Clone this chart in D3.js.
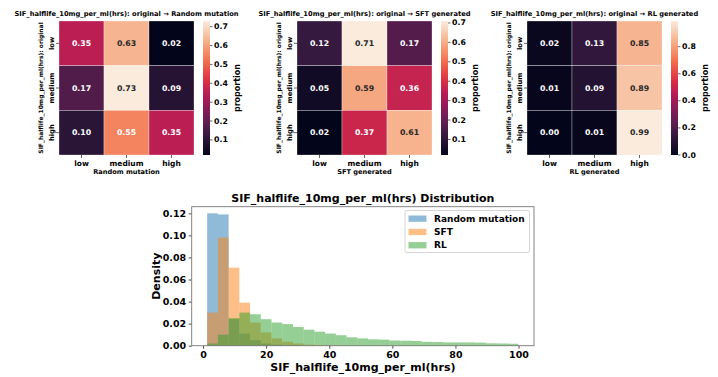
<!DOCTYPE html>
<html>
<head>
<meta charset="utf-8">
<script src="https://cdn.jsdelivr.net/npm/d3@7"></script>
<style>
  body { margin: 0; background: #fff; }
  text { font-family: "DejaVu Sans", sans-serif; font-weight: bold; fill: #000; }
</style>
</head>
<body>
<svg id="chart" width="718" height="377"></svg>
<script>
"use strict"

// Data
const levels = ['low', 'medium', 'high']
const panelNames = ['Random mutation', 'SFT generated', 'RL generated']
const randomMatrix = [[0.35, 0.63, 0.02], [0.17, 0.73, 0.09], [0.10, 0.55, 0.35]]
const sftMatrix = [[0.12, 0.71, 0.17], [0.05, 0.59, 0.36], [0.02, 0.37, 0.61]]
const rlMatrix = [[0.02, 0.13, 0.85], [0.01, 0.09, 0.89], [0.00, 0.01, 0.99]]
const cbarTicks = [
  [0.1, 0.2, 0.3, 0.4, 0.5, 0.6, 0.7],
  [0.1, 0.2, 0.3, 0.4, 0.5, 0.6, 0.7],
  [0.0, 0.2, 0.4, 0.6, 0.8]
]

const binEdges = [1.3, 4.7, 8.1, 11.5, 14.9, 18.3, 21.7, 25.1, 28.5, 31.9, 35.3, 38.7, 42.1, 45.5, 48.9,
  52.3, 55.7, 59.1, 62.5, 65.9, 69.3, 72.7, 76.1, 79.5, 82.9, 86.3, 89.7, 93.1, 96.5, 100]
const seriesNames = ['Random mutation', 'SFT', 'RL']
const randomDensity = [0.120, 0.119, 0.024, 0.011, 0.005, 0.002, 0.001, 0.0005, 0.0003]
const sftDensity = [0.030, 0.098, 0.0707, 0.039, 0.021, 0.012, 0.0066, 0.0036, 0.002, 0.001, 0.0006, 0.0003]
const rlDensity = [0.002, 0.010, 0.025, 0.030, 0.0285, 0.024, 0.021, 0.0196, 0.017, 0.0145, 0.0127, 0.011,
  0.0095, 0.0076, 0.0066, 0.0058, 0.0055, 0.0047, 0.0045, 0.0043, 0.0035, 0.0033, 0.0030, 0.0030,
  0.0030, 0.0028, 0.0022, 0.0020, 0.0018]
const xTicks = [0, 20, 40, 60, 80, 100]
const yTicks = [0, 0.02, 0.04, 0.06, 0.08, 0.10, 0.12]

// Colours
const rocketStops = ['#03051a', '#35193e', '#701f57', '#ad1759', '#e13342', '#f37651', '#f6b48f', '#faebdd']
const rocket = d3.scaleLinear()
  .domain(rocketStops.map((c, i) => i / (rocketStops.length - 1)))
  .range(rocketStops)
  .interpolate(d3.interpolateRgb)
const seriesColors = ['#1f77b4', '#ff7f0e', '#2ca02c']

const svg = d3.select('#chart')

function luminance(color) {
  const c = d3.rgb(color)
  const lin = v => { v /= 255; return v <= 0.03928 ? v / 12.92 : Math.pow((v + 0.055) / 1.055, 2.4) }
  return 0.2126 * lin(c.r) + 0.7152 * lin(c.g) + 0.0722 * lin(c.b)
}

/****** HEATMAPS ******/
const matrices = [randomMatrix, sftMatrix, rlMatrix]
const panelLefts = [59, 297, 527]
const hmTop = 21, hmSize = 134, hmWidth = 135

matrices.forEach((matrix, p) => {
  const x0 = panelLefts[p]
  const flat = matrix.flat()
  const vmin = d3.min(flat), vmax = d3.max(flat)
  const norm = d3.scaleLinear().domain([vmin, vmax]).range([0, 1]).clamp(true)
  const color = v => rocket(norm(v))

  const xs = d3.scaleBand().domain(levels).range([x0, x0 + hmWidth])
  const ys = d3.scaleBand().domain(levels).range([hmTop, hmTop + hmSize])
  const g = svg.append('g')

  const cells = matrix.flatMap((row, i) => row.map((v, j) => ({ row: levels[i], col: levels[j], v })))
  g.selectAll('rect.cell').data(cells).enter().append('rect')
    .attr('class', 'cell')
    .attr('x', d => xs(d.col)).attr('y', d => ys(d.row))
    .attr('width', xs.bandwidth()).attr('height', ys.bandwidth())
    .attr('fill', d => color(d.v))
    .attr('stroke', '#fff').attr('stroke-width', 0.3)
  g.selectAll('text.annot').data(cells).enter().append('text')
    .attr('class', 'annot')
    .attr('x', d => xs(d.col) + xs.bandwidth() / 2)
    .attr('y', d => ys(d.row) + ys.bandwidth() / 2)
    .attr('text-anchor', 'middle').attr('dominant-baseline', 'central')
    .style('font-size', '7.8px')
    .style('fill', d => luminance(color(d.v)) > 0.408 ? '#262626' : '#fff')
    .text(d => d.v.toFixed(2))

  // x axis
  levels.forEach(l => {
    const cx = xs(l) + xs.bandwidth() / 2
    g.append('line').attr('x1', cx).attr('x2', cx).attr('y1', hmTop + hmSize).attr('y2', hmTop + hmSize + 3)
      .attr('stroke', '#000').attr('stroke-width', 0.6)
    g.append('text').attr('x', cx).attr('y', hmTop + hmSize + 10.5)
      .attr('text-anchor', 'middle').style('font-size', '7.5px').text(l)
  })
  g.append('text').attr('x', x0 + hmWidth / 2).attr('y', hmTop + hmSize + 18.5)
    .attr('text-anchor', 'middle').style('font-size', '6.6px').text(panelNames[p])

  // y axis
  levels.forEach(l => {
    const cy = ys(l) + ys.bandwidth() / 2
    g.append('line').attr('x1', x0 - 3).attr('x2', x0).attr('y1', cy).attr('y2', cy)
      .attr('stroke', '#000').attr('stroke-width', 0.6)
    g.append('text').attr('transform', `translate(${x0 - 5},${cy}) rotate(-90)`)
      .attr('text-anchor', 'middle').style('font-size', '6.8px').text(l)
  })
  g.append('text').attr('transform', `translate(${x0 - 16.5},${hmTop + hmSize / 2}) rotate(-90)`)
    .attr('text-anchor', 'middle').style('font-size', '6px')
    .text('SIF_halflife_10mg_per_ml(hrs): original')

  // title
  g.append('text').attr('x', x0 + hmWidth / 2).attr('y', 16)
    .attr('text-anchor', 'middle').style('font-size', '6.7px')
    .text('SIF_halflife_10mg_per_ml(hrs): original \u2192 ' + panelNames[p])

  // colorbar
  const cbX = x0 + hmWidth + 9, cbW = 7
  const gradId = 'cbar' + p
  const grad = svg.append('defs').append('linearGradient').attr('id', gradId)
    .attr('x1', 0).attr('x2', 0).attr('y1', 1).attr('y2', 0)
  d3.range(0, 1.0001, 0.05).forEach(t => {
    grad.append('stop').attr('offset', t).attr('stop-color', rocket(t))
  })
  g.append('rect').attr('x', cbX).attr('y', hmTop).attr('width', cbW).attr('height', hmSize)
    .attr('fill', `url(#${gradId})`)
  const cbScale = d3.scaleLinear().domain([vmin, vmax]).range([hmTop + hmSize, hmTop])
  cbarTicks[p].forEach(t => {
    const y = cbScale(t)
    g.append('line').attr('x1', cbX + cbW).attr('x2', cbX + cbW + 2.5).attr('y1', y).attr('y2', y)
      .attr('stroke', '#000').attr('stroke-width', 0.6)
    g.append('text').attr('x', cbX + cbW + 4).attr('y', y).attr('dominant-baseline', 'central')
      .style('font-size', '7.8px').text(t.toFixed(1))
  })
  g.append('text').attr('transform', `translate(${cbX + 37},${hmTop + hmSize / 2}) rotate(-90)`)
    .attr('text-anchor', 'middle').style('font-size', '8px').text('proportion')
})

/****** HISTOGRAM ******/
const plot = { left: 191.7, right: 534, top: 206.7, bottom: 345.7 }
const x = d3.scaleLinear().domain([-3.6, 104.9]).range([plot.left, plot.right])
const y = d3.scaleLinear().domain([0, 0.126]).range([plot.bottom, plot.top])
const hist = svg.append('g')

const allDensities = [randomDensity, sftDensity, rlDensity]
allDensities.forEach((dens, s) => {
  hist.append('g').selectAll('rect').data(dens).enter().append('rect')
    .attr('x', (d, i) => x(binEdges[i]))
    .attr('width', (d, i) => x(binEdges[i + 1]) - x(binEdges[i]))
    .attr('y', d => y(d))
    .attr('height', d => y(0) - y(d))
    .attr('fill', seriesColors[s]).attr('fill-opacity', 0.5)
})

// axes
const xAxis = hist.append('g').attr('transform', `translate(0,${plot.bottom})`)
  .call(d3.axisBottom(x).tickValues(xTicks).tickSize(3).tickFormat(d3.format('d')))
xAxis.selectAll('text').style('font-size', '9.5px').attr('dy', '0.75em').attr('y', 5)
const yAxis = hist.append('g').attr('transform', `translate(${plot.left},0)`)
  .call(d3.axisLeft(y).tickValues(yTicks).tickSize(3).tickFormat(d3.format('.2f')))
yAxis.selectAll('text').style('font-size', '9.5px').attr('x', -5.5)
hist.selectAll('.domain').remove()
hist.selectAll('.tick line').attr('stroke', '#000').attr('stroke-width', 0.7)
hist.selectAll('.tick text').style('font-family', '"DejaVu Sans", sans-serif').style('font-weight', 'bold')

hist.append('rect').attr('x', plot.left).attr('y', plot.top)
  .attr('width', plot.right - plot.left).attr('height', plot.bottom - plot.top)
  .attr('fill', 'none').attr('stroke', '#777').attr('stroke-width', 0.9)

hist.append('text').attr('x', (plot.left + plot.right) / 2).attr('y', 201.5)
  .attr('text-anchor', 'middle').style('font-size', '11px')
  .text('SIF_halflife_10mg_per_ml(hrs) Distribution')
hist.append('text').attr('x', (plot.left + plot.right) / 2).attr('y', 370.5)
  .attr('text-anchor', 'middle').style('font-size', '11px')
  .text('SIF_halflife_10mg_per_ml(hrs)')
hist.append('text').attr('transform', `translate(160,${(plot.top + plot.bottom) / 2}) rotate(-90)`)
  .attr('text-anchor', 'middle').style('font-size', '11px').text('Density')

// legend
const legend = hist.append('g').attr('transform', 'translate(405,210.5)')
legend.append('rect').attr('width', 124.5).attr('height', 42).attr('rx', 2)
  .attr('fill', '#fff').attr('fill-opacity', 0.8).attr('stroke', '#ccc').attr('stroke-width', 0.8)
seriesNames.forEach((name, i) => {
  const cy = 8 + i * 13.3
  legend.append('rect').attr('x', 3.5).attr('y', cy - 3).attr('width', 18).attr('height', 6.3)
    .attr('fill', seriesColors[i]).attr('fill-opacity', 0.5)
  legend.append('text').attr('x', 29).attr('y', cy).attr('dominant-baseline', 'central')
    .style('font-size', '9px').text(name)
})
</script>
</body>
</html>
